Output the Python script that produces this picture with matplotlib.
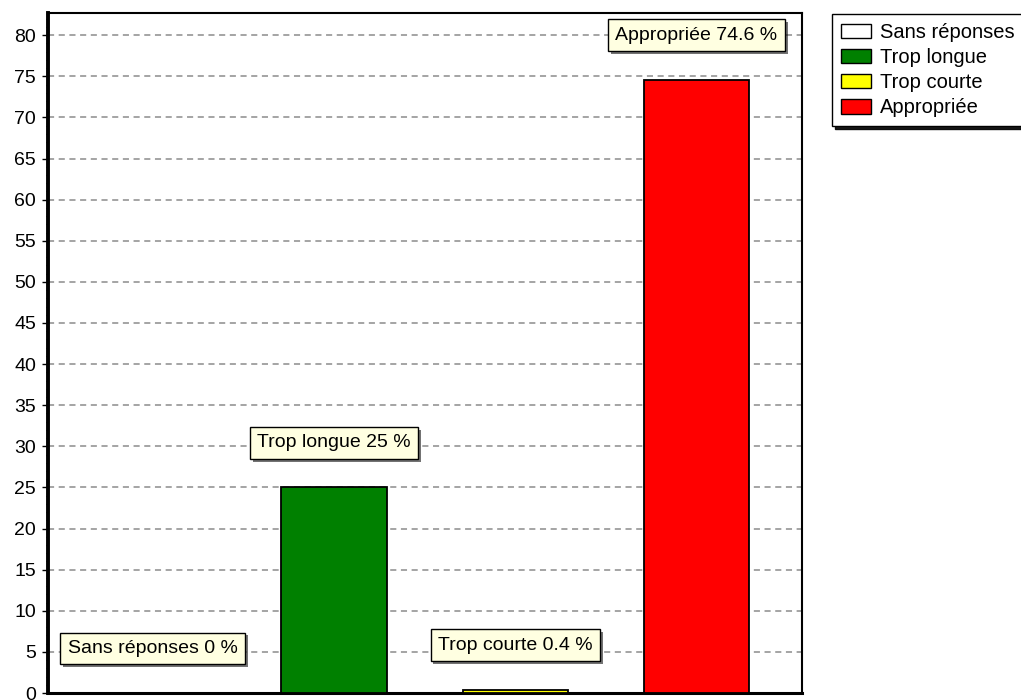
import numpy as np
import matplotlib as mpl
mpl.use('Agg')
import matplotlib.pyplot as plt
from matplotlib.patches import Patch
from matplotlib import patheffects as pe
from matplotlib.ticker import MultipleLocator

mpl.rcParams.update({
    'font.family': ['Liberation Sans', 'DejaVu Sans'],
    'font.size': 14,
})

# data
categories = ['Sans réponses', 'Trop longue', 'Trop courte', 'Appropriée']
values = [0, 25, 0.4, 74.6]
colors = ['#FFFFFF', '#008000', '#FFFF00', '#FF0000']

W, H = 1021, 700
fig = plt.figure(figsize=(W / 100, H / 100), dpi=100)
ax = fig.add_axes([48 / W, 1 - 693 / H, (802 - 48) / W, (693 - 13) / H])

x = np.arange(len(categories))
ax.bar(x, values, width=0.582, color=colors, edgecolor='black', linewidth=1.3, zorder=3)

ax.set_xlim(-0.578, 3.582)
ax.set_ylim(0, 82.7)
ax.yaxis.set_major_locator(MultipleLocator(5))
ax.yaxis.set_minor_locator(MultipleLocator(1))
ax.set_xticks(x)
ax.set_xticklabels([])
ax.tick_params(axis='x', length=0)
ax.tick_params(axis='y', which='major', length=4.5, width=1.0, pad=4, labelsize=14)
ax.tick_params(axis='y', which='minor', length=1.8, width=0.8)
ax.grid(True, axis='y', color='#8c8c8c', linestyle=(0, (4, 3)), linewidth=1.1, zorder=1)
ax.set_axisbelow(True)

ax.spines['left'].set_linewidth(2.8)
ax.spines['bottom'].set_linewidth(2.2)
ax.spines['top'].set_linewidth(1.5)
ax.spines['right'].set_linewidth(1.5)

# value labels in tooltip-like boxes
for xi, cat, v in zip(x, categories, values):
    t = ax.annotate(f'{cat} {v:g} %', xy=(xi, v), xytext=(0, 32), textcoords='offset points',
                    ha='center', va='center', fontsize=14, zorder=5,
                    bbox=dict(boxstyle='square,pad=0.38', facecolor='#FFFFE1',
                              edgecolor='black', linewidth=1.0))
    t.get_bbox_patch().set_path_effects([
        pe.SimplePatchShadow(offset=(2, -2), shadow_rgbFace='black', alpha=0.55),
        pe.Normal()])

handles = [Patch(facecolor=c, edgecolor='black', linewidth=1.0, label=cat)
           for cat, c in zip(categories, colors)]
leg = fig.legend(handles=handles, loc='upper left', bbox_to_anchor=(832 / W, 1 - 14 / H),
                 frameon=True, fancybox=False, edgecolor='black', framealpha=1,
                 shadow={'color': 'black', 'alpha': 0.9}, fontsize=14.5,
                 borderaxespad=0, borderpad=0.45, handlelength=1.5, handleheight=0.75,
                 handletextpad=0.45, labelspacing=0.3)
leg.get_frame().set_linewidth(1.0)

fig.savefig('out.png', dpi=100)
